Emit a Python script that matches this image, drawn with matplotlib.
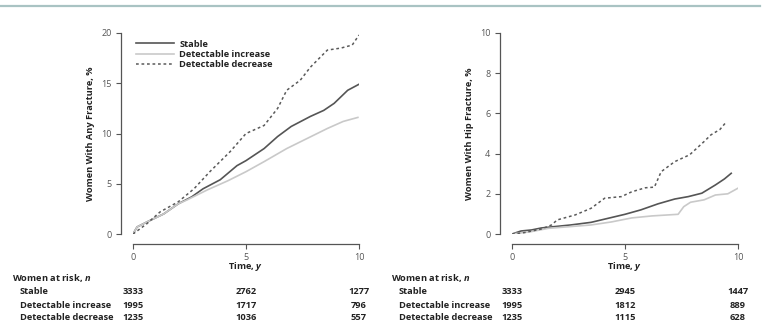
import matplotlib.pyplot as plt
from matplotlib.transforms import blended_transform_factory
from matplotlib.lines import Line2D

plt.rcParams['font.family'] = ['Open Sans', 'DejaVu Sans']
plt.rcParams['mathtext.fontset'] = 'custom'
plt.rcParams['mathtext.it'] = 'Open Sans:italic:bold'
plt.rcParams['mathtext.rm'] = 'Open Sans:bold'

# any fracture, cumulative %
any_stable_t = [0, 0.18, 0.62, 1.36, 2.0, 2.6, 3.1, 3.86, 4.6, 5.0, 5.8, 6.4, 7.0, 7.85, 8.44, 8.9, 9.5, 10.0]
any_stable_v = [0, 0.7, 1.2, 2.0, 3.0, 3.7, 4.5, 5.4, 6.8, 7.3, 8.5, 9.7, 10.7, 11.7, 12.3, 13.0, 14.3, 14.9]
any_incr_t = [0, 0.18, 0.62, 1.36, 2.0, 2.4, 3.3, 4.2, 5.0, 5.8, 6.8, 7.7, 8.6, 9.3, 9.95]
any_incr_v = [0, 0.7, 1.2, 2.0, 3.0, 3.4, 4.4, 5.3, 6.2, 7.2, 8.5, 9.5, 10.5, 11.2, 11.6]
any_decr_t = [0, 0.6, 1.2, 2.0, 2.7, 3.4, 4.3, 5.0, 5.8, 6.4, 6.8, 7.4, 7.85, 8.6, 9.2, 9.7, 10.0]
any_decr_v = [0, 1.0, 2.2, 3.2, 4.5, 6.2, 8.2, 10.0, 10.8, 12.5, 14.3, 15.3, 16.6, 18.3, 18.5, 18.8, 19.8]

# hip fracture, cumulative %
hip_stable_t = [0, 0.4, 0.86, 1.3, 1.9, 2.6, 3.5, 4.25, 5.0, 5.7, 6.46, 7.2, 7.8, 8.4, 9.0, 9.4, 9.7]
hip_stable_v = [0, 0.15, 0.2, 0.3, 0.37, 0.45, 0.58, 0.78, 0.98, 1.2, 1.5, 1.74, 1.86, 2.03, 2.44, 2.74, 3.02]
hip_incr_t = [0, 0.86, 1.6, 2.6, 3.5, 4.4, 5.3, 6.2, 7.35, 7.6, 7.9, 8.5, 9.0, 9.55, 10.0]
hip_incr_v = [0, 0.12, 0.28, 0.37, 0.45, 0.6, 0.8, 0.9, 0.98, 1.36, 1.58, 1.7, 1.94, 2.0, 2.28]
hip_decr_t = [0, 0.55, 1.3, 1.75, 2.0, 2.8, 3.5, 4.1, 4.84, 5.3, 5.9, 6.3, 6.6, 7.2, 7.86, 8.5, 8.8, 9.2, 9.5]
hip_decr_v = [0, 0.07, 0.25, 0.45, 0.7, 0.95, 1.28, 1.78, 1.86, 2.1, 2.3, 2.33, 3.1, 3.6, 3.94, 4.6, 4.93, 5.2, 5.6]

groups = ['Stable', 'Detectable increase', 'Detectable decrease']
risk_times = [0, 5, 10]
any_risk = [[3333, 2762, 1277], [1995, 1717, 796], [1235, 1036, 557]]
hip_risk = [[3333, 2945, 1447], [1995, 1812, 889], [1235, 1115, 628]]

styles = [dict(color='#555555', lw=1.2, ls='-'),
          dict(color='#c9c9c9', lw=1.2, ls='-'),
          dict(color='#5a5a5a', lw=1.1, ls=(0, (1.8, 1.8)))]

FS = 6.7
TXT = '#222222'
W, H = 766, 324
fig = plt.figure(figsize=(W / 100, H / 100), dpi=100)

# teal rule at the top
fig.add_artist(Line2D([0, 760 / W], [1 - 6 / H, 1 - 6 / H], color='#a9c3c3', lw=1.6))


def setup(ax, ymax, ystep, ylabel):
    ax.set_xlim(0, 10)
    ax.set_ylim(0, ymax)
    for s in ['top', 'right']:
        ax.spines[s].set_visible(False)
    ax.spines['left'].set_position(('outward', 9))
    ax.spines['bottom'].set_position(('outward', 7))
    ax.spines['left'].set_bounds(0, ymax)
    ax.spines['bottom'].set_bounds(0, 10)
    for s in ['left', 'bottom']:
        ax.spines[s].set_color('#555555')
        ax.spines[s].set_linewidth(0.9)
    ax.set_xticks([0, 5, 10])
    ax.set_yticks(list(range(0, ymax + 1, ystep)))
    ax.tick_params(length=3.5, width=0.8, color='#555555', labelsize=6.5,
                   labelcolor='#555555', pad=3)
    ax.set_xlabel(r'Time, $y$', fontsize=FS, fontweight='bold', color=TXT, labelpad=-1)
    ax.set_ylabel(ylabel, fontsize=FS, fontweight='bold', color=TXT, labelpad=4)


def risk_table(ax, x0, counts):
    tr = blended_transform_factory(ax.transData, fig.transFigure)
    fig.text(x0 / W, 1 - 278 / H, r'Women at risk, $n$', fontsize=FS, fontweight='bold',
             color=TXT, va='center', ha='left')
    for i, g in enumerate(groups):
        y = 1 - (292 + 13 * i) / H
        fig.text((x0 + 8) / W, y, g, fontsize=FS, fontweight='bold', color=TXT,
                 va='center', ha='left')
        for t, n in zip(risk_times, counts[i]):
            ax.text(t, y, str(n), transform=tr, fontsize=FS, fontweight='bold', color=TXT,
                    va='center', ha='center')


ax1 = fig.add_axes([133 / W, 90 / H, 226 / W, 201 / H])
setup(ax1, 20, 5, 'Women With Any Fracture, %')
ax1.plot(any_stable_t, any_stable_v, label=groups[0], **styles[0])
ax1.plot(any_incr_t, any_incr_v, label=groups[1], **styles[1])
ax1.plot(any_decr_t, any_decr_v, label=groups[2], **styles[2])
leg = ax1.legend(loc='upper left', bbox_to_anchor=(-0.005, 0.985), frameon=False,
                 handlelength=4.1, handletextpad=0.6, labelspacing=0.12, borderaxespad=0,
                 prop={'weight': 'bold', 'size': FS})
for t in leg.get_texts():
    t.set_color(TXT)
risk_table(ax1, 12, any_risk)

ax2 = fig.add_axes([512 / W, 90 / H, 226 / W, 201 / H])
setup(ax2, 10, 2, 'Women With Hip Fracture, %')
ax2.plot(hip_stable_t, hip_stable_v, **styles[0])
ax2.plot(hip_incr_t, hip_incr_v, **styles[1])
ax2.plot(hip_decr_t, hip_decr_v, **styles[2])
risk_table(ax2, 391, hip_risk)

fig.savefig('out.png', dpi=100)
